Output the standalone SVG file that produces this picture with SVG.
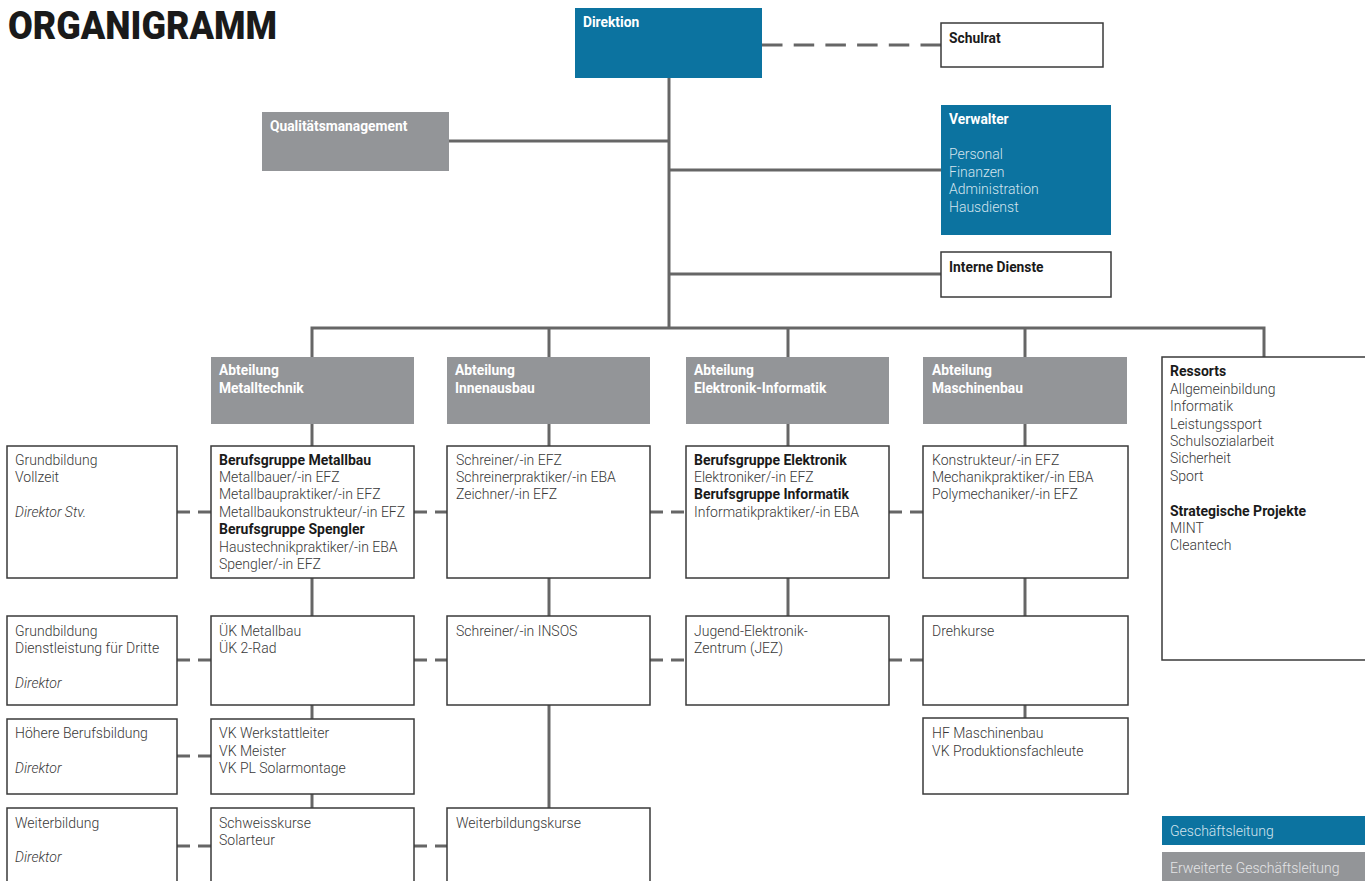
<svg xmlns="http://www.w3.org/2000/svg" width="1365" height="881" viewBox="0 0 1365 881">
<style>
text{font-family:Roboto,"Liberation Sans",sans-serif;font-size:14px;}
.t{fill:#383838;font-weight:300;}
.b{fill:#1a1a1a;font-weight:700;}
.i{fill:#383838;font-weight:300;font-style:italic;}
.w{fill:#ffffff;font-weight:700;font-size:13.8px;}
.lb{fill:#d3e4ee;font-weight:300;}
.lg{fill:#e4e4e6;font-weight:300;}
.box{fill:#ffffff;stroke:#3a3a3a;stroke-width:1.5;}
.blue{fill:#0c73a0;}
.gray{fill:#939598;}
.ln{stroke:#666666;stroke-width:3;fill:none;}
.d{stroke:#666666;stroke-width:3;fill:none;stroke-dasharray:13 8;}
.dl{stroke:#666666;stroke-width:3;fill:none;stroke-dasharray:20.5 11.2;}
</style>
<text x="8" y="39" style="font-size:38px;font-weight:900;fill:#1a1a1a" textLength="269" lengthAdjust="spacingAndGlyphs">ORGANIGRAMM</text>

<g id="connectors">
<line class="dl" x1="762" y1="45" x2="941" y2="45"/>
<line class="ln" x1="669" y1="78" x2="669" y2="328"/>
<line class="ln" x1="449" y1="141" x2="669" y2="141"/>
<line class="ln" x1="669" y1="170" x2="941" y2="170"/>
<line class="ln" x1="669" y1="274" x2="941" y2="274"/>
<polyline class="ln" points="312,357 312,328 1264,328 1264,357"/>
<line class="ln" x1="549" y1="328" x2="549" y2="357"/>
<line class="ln" x1="788" y1="328" x2="788" y2="357"/>
<line class="ln" x1="1025" y1="328" x2="1025" y2="357"/>
<line class="ln" x1="312" y1="424" x2="312" y2="446"/>
<line class="ln" x1="549" y1="424" x2="549" y2="446"/>
<line class="ln" x1="788" y1="424" x2="788" y2="446"/>
<line class="ln" x1="1025" y1="424" x2="1025" y2="446"/>
<line class="ln" x1="312" y1="578" x2="312" y2="616"/>
<line class="ln" x1="549" y1="578" x2="549" y2="616"/>
<line class="ln" x1="788" y1="578" x2="788" y2="616"/>
<line class="ln" x1="1025" y1="578" x2="1025" y2="616"/>
<line class="ln" x1="312" y1="705" x2="312" y2="719"/>
<line class="ln" x1="312" y1="794" x2="312" y2="808"/>
<line class="ln" x1="549" y1="705" x2="549" y2="808"/>
<line class="ln" x1="1025" y1="705" x2="1025" y2="718"/>
<line class="d" x1="177" y1="512" x2="211" y2="512"/>
<line class="d" x1="414" y1="512" x2="447" y2="512"/>
<line class="d" x1="650" y1="512" x2="686" y2="512"/>
<line class="d" x1="889" y1="512" x2="923" y2="512"/>
<line class="d" x1="177" y1="660" x2="211" y2="660"/>
<line class="d" x1="414" y1="660" x2="447" y2="660"/>
<line class="d" x1="650" y1="660" x2="686" y2="660"/>
<line class="d" x1="889" y1="660" x2="923" y2="660"/>
<line class="d" x1="177" y1="756" x2="211" y2="756"/>
<line class="d" x1="177" y1="846" x2="211" y2="846"/>
<line class="d" x1="414" y1="846" x2="447" y2="846"/>
</g>

<g id="direktion"><rect class="blue" x="575" y="8" width="187" height="70"/><text class="w" x="583" y="27">Direktion</text></g>
<g id="schulrat"><rect class="box" x="941" y="23" width="162" height="44"/><text class="b" x="949" y="43" style="font-size:13.8px">Schulrat</text></g>
<g id="qualitaet"><rect class="gray" x="262" y="112" width="187" height="59"/><text class="w" x="270" y="131">Qualitätsmanagement</text></g>
<g id="verwalter"><rect class="blue" x="941" y="105" width="170" height="130"/><text class="w" x="949" y="124">Verwalter</text>
<text class="lb" x="949" y="159">Personal</text><text class="lb" x="949" y="177">Finanzen</text><text class="lb" x="949" y="194">Administration</text><text class="lb" x="949" y="212">Hausdienst</text></g>
<g id="interne"><rect class="box" x="941" y="252" width="170" height="45"/><text class="b" x="949" y="272" style="font-size:13.8px">Interne Dienste</text></g>

<g id="abt-metall"><rect class="gray" x="211" y="357" width="203" height="67"/><text class="w" x="219" y="375">Abteilung</text><text class="w" x="219" y="393">Metalltechnik</text></g>
<g id="abt-innen"><rect class="gray" x="447" y="357" width="203" height="67"/><text class="w" x="455" y="375">Abteilung</text><text class="w" x="455" y="393">Innenausbau</text></g>
<g id="abt-elektro"><rect class="gray" x="686" y="357" width="203" height="67"/><text class="w" x="694" y="375">Abteilung</text><text class="w" x="694" y="393">Elektronik-Informatik</text></g>
<g id="abt-maschinen"><rect class="gray" x="923" y="357" width="204" height="67"/><text class="w" x="932" y="375">Abteilung</text><text class="w" x="932" y="393">Maschinenbau</text></g>

<g id="ressorts"><rect class="box" x="1162" y="357" width="210" height="303"/>
<text class="b" x="1170" y="376">Ressorts</text>
<text class="t" x="1170" y="394">Allgemeinbildung</text><text class="t" x="1170" y="411">Informatik</text><text class="t" x="1170" y="429">Leistungssport</text><text class="t" x="1170" y="446">Schulsozialarbeit</text><text class="t" x="1170" y="463">Sicherheit</text><text class="t" x="1170" y="481">Sport</text>
<text class="b" x="1170" y="516">Strategische Projekte</text><text class="t" x="1170" y="533">MINT</text><text class="t" x="1170" y="550">Cleantech</text></g>

<g id="gb-vollzeit"><rect class="box" x="7" y="446" width="170" height="132"/><text class="t" x="15" y="465">Grundbildung</text><text class="t" x="15" y="482">Vollzeit</text><text class="i" x="15" y="517">Direktor Stv.</text></g>
<g id="metall-berufe"><rect class="box" x="211" y="446" width="203" height="132"/>
<text class="b" x="219" y="465">Berufsgruppe Metallbau</text><text class="t" x="219" y="482">Metallbauer/-in EFZ</text><text class="t" x="219" y="499">Metallbaupraktiker/-in EFZ</text><text class="t" x="219" y="517">Metallbaukonstrukteur/-in EFZ</text><text class="b" x="219" y="534">Berufsgruppe Spengler</text><text class="t" x="219" y="552">Haustechnikpraktiker/-in EBA</text><text class="t" x="219" y="569">Spengler/-in EFZ</text></g>
<g id="innen-berufe"><rect class="box" x="447" y="446" width="203" height="132"/><text class="t" x="456" y="465">Schreiner/-in EFZ</text><text class="t" x="456" y="482">Schreinerpraktiker/-in EBA</text><text class="t" x="456" y="499">Zeichner/-in EFZ</text></g>
<g id="elektro-berufe"><rect class="box" x="686" y="446" width="203" height="132"/><text class="b" x="694" y="465">Berufsgruppe Elektronik</text><text class="t" x="694" y="482">Elektroniker/-in EFZ</text><text class="b" x="694" y="499">Berufsgruppe Informatik</text><text class="t" x="694" y="517">Informatikpraktiker/-in EBA</text></g>
<g id="maschinen-berufe"><rect class="box" x="923" y="446" width="205" height="132"/><text class="t" x="932" y="465">Konstrukteur/-in EFZ</text><text class="t" x="932" y="482">Mechanikpraktiker/-in EBA</text><text class="t" x="932" y="499">Polymechaniker/-in EFZ</text></g>

<g id="gb-dienst"><rect class="box" x="7" y="616" width="170" height="89"/><text class="t" x="15" y="636">Grundbildung</text><text class="t" x="15" y="653">Dienstleistung für Dritte</text><text class="i" x="15" y="688">Direktor</text></g>
<g id="uek"><rect class="box" x="211" y="616" width="203" height="89"/><text class="t" x="219" y="636">ÜK Metallbau</text><text class="t" x="219" y="653">ÜK 2-Rad</text></g>
<g id="insos"><rect class="box" x="447" y="616" width="203" height="89"/><text class="t" x="456" y="636">Schreiner/-in INSOS</text></g>
<g id="jez"><rect class="box" x="686" y="616" width="203" height="89"/><text class="t" x="694" y="636">Jugend-Elektronik-</text><text class="t" x="694" y="653">Zentrum (JEZ)</text></g>
<g id="drehkurse"><rect class="box" x="923" y="616" width="205" height="89"/><text class="t" x="932" y="636">Drehkurse</text></g>

<g id="hbb"><rect class="box" x="7" y="719" width="170" height="75"/><text class="t" x="15" y="738">Höhere Berufsbildung</text><text class="i" x="15" y="773">Direktor</text></g>
<g id="vk"><rect class="box" x="211" y="719" width="203" height="75"/><text class="t" x="219" y="738">VK Werkstattleiter</text><text class="t" x="219" y="756">VK Meister</text><text class="t" x="219" y="773">VK PL Solarmontage</text></g>
<g id="hf"><rect class="box" x="923" y="718" width="205" height="76"/><text class="t" x="932" y="738">HF Maschinenbau</text><text class="t" x="932" y="756">VK Produktionsfachleute</text></g>

<g id="wb"><rect class="box" x="7" y="808" width="170" height="80"/><text class="t" x="15" y="828">Weiterbildung</text><text class="i" x="15" y="862">Direktor</text></g>
<g id="schweiss"><rect class="box" x="211" y="808" width="203" height="80"/><text class="t" x="219" y="828">Schweisskurse</text><text class="t" x="219" y="845">Solarteur</text></g>
<g id="wbkurse"><rect class="box" x="447" y="808" width="203" height="80"/><text class="t" x="456" y="828">Weiterbildungskurse</text></g>

<g id="legende-gl"><rect class="blue" x="1162" y="816" width="203" height="29"/><text class="lb" x="1170" y="836">Geschäftsleitung</text></g>
<g id="legende-egl"><rect class="gray" x="1162" y="852" width="203" height="29"/><text class="lg" x="1170" y="873">Erweiterte Geschäftsleitung</text></g>
</svg>
